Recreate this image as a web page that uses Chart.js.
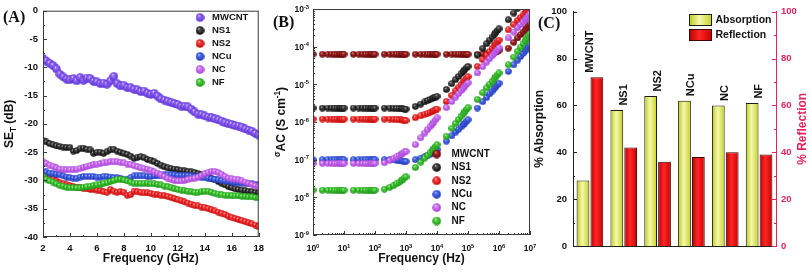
<!DOCTYPE html>
<html lang="en">
<head>
<meta charset="UTF-8">
<title>SE, AC conductivity and absorption / reflection</title>
<script src="https://cdn.jsdelivr.net/npm/chart.js"></script>
<style>
  body { margin: 0; background: #fff; }
  #wrap { position: relative; width: 810px; height: 278px; overflow: hidden; }
  canvas { position: absolute; top: 0; }
  #chartA { left: 0; }
  #chartB { left: 270px; }
  #chartC { left: 525px; }
</style>
</head>
<body>
<div id="wrap">
  <canvas id="chartA" width="270" height="278"></canvas>
  <canvas id="chartB" width="270" height="278"></canvas>
  <canvas id="chartC" width="285" height="278"></canvas>
</div>
<script>
const FONT = "'Liberation Sans', Arial, sans-serif";
const SERIF = "'Liberation Serif', 'Times New Roman', serif";
const INK = '#111';
const AXIS = '#3a3a3a';
const RED = '#e3245a';
Chart.defaults.font.family = FONT;
Chart.defaults.color = INK;

const samples = ['MWCNT', 'NS1', 'NS2', 'NCu', 'NC', 'NF'];

// ---- (A) total shielding effectiveness vs frequency ----
const freqGHz = [2, 2.25, 2.5, 2.75, 3, 3.25, 3.5, 3.75,
  4, 4.25, 4.5, 4.75, 5, 5.25, 5.5, 5.75,
  6, 6.25, 6.5, 6.75, 7, 7.25, 7.5, 7.75,
  8, 8.25, 8.5, 8.75, 9, 9.25, 9.5, 9.75,
  10, 10.25, 10.5, 10.75, 11, 11.25, 11.5, 11.75,
  12, 12.25, 12.5, 12.75, 13, 13.25, 13.5, 13.75,
  14, 14.25, 14.5, 14.75, 15, 15.25, 15.5, 15.75,
  16, 16.25, 16.5, 16.75, 17, 17.25, 17.5, 17.75,
  18];
const seMWCNT = [-8.4, -8.9, -9.3, -9.7, -10.3, -11.2, -11.7, -12.1,
  -12.2, -12.0, -12.4, -11.8, -12.3, -11.9, -12.0, -12.5,
  -12.6, -12.9, -12.8, -13.0, -12.4, -11.6, -12.9, -13.3,
  -13.2, -13.6, -13.6, -13.9, -14.0, -14.3, -14.2, -14.6,
  -14.8, -14.6, -15.1, -15.6, -15.8, -16.0, -16.2, -16.4,
  -16.6, -16.9, -16.9, -17.0, -17.4, -17.9, -18.3, -18.4,
  -18.6, -18.8, -18.9, -19.1, -19.3, -19.5, -19.8, -20.0,
  -20.1, -20.3, -20.4, -20.6, -20.9, -21.1, -21.3, -21.7,
  -22.0];
const seNS1 = [-22.9, -23.2, -23.5, -23.7, -23.9, -24.0, -24.1, -24.2,
  -24.2, -24.8, -24.7, -24.4, -24.3, -24.5, -24.6, -25.2,
  -25.0, -25.0, -25.2, -24.9, -24.6, -24.5, -24.8, -25.0,
  -25.2, -25.4, -25.7, -26.1, -25.9, -25.8, -26.0, -26.3,
  -26.4, -26.7, -27.0, -27.3, -27.6, -27.8, -27.9, -28.0,
  -28.1, -28.2, -28.3, -28.4, -28.5, -28.6, -28.8, -29.0,
  -29.2, -29.4, -29.7, -29.9, -30.2, -30.5, -30.8, -31.1,
  -31.3, -31.5, -31.6, -31.7, -31.8, -31.9, -32.0, -32.1,
  -32.2];
const seNS2 = [-29.0, -29.3, -29.5, -29.8, -30.1, -30.4, -30.6, -30.8,
  -30.9, -31.1, -31.2, -31.3, -31.4, -31.5, -31.6, -31.6,
  -31.7, -31.8, -32.0, -32.1, -31.6, -31.9, -32.1, -32.0,
  -32.1, -32.6, -32.5, -31.9, -32.0, -32.1, -32.2, -32.2,
  -32.3, -32.4, -32.5, -32.6, -32.7, -32.8, -33.0, -33.2,
  -33.4, -33.6, -33.8, -34.0, -34.2, -34.4, -34.5, -34.7,
  -34.8, -35.0, -35.2, -35.4, -35.6, -35.8, -36.0, -36.3,
  -36.5, -36.7, -36.9, -37.1, -37.3, -37.5, -37.7, -37.9,
  -38.2];
const seNCu = [-28.4, -28.5, -28.7, -28.8, -28.9, -29.0, -29.2, -29.4,
  -29.5, -29.6, -29.6, -29.4, -29.3, -29.3, -29.3, -29.3,
  -29.4, -29.4, -29.3, -29.3, -29.4, -29.5, -29.5, -29.6,
  -29.8, -29.8, -29.5, -29.2, -29.2, -29.2, -29.2, -29.3,
  -29.3, -29.2, -29.2, -29.1, -29.0, -29.0, -29.0, -29.0,
  -29.1, -29.1, -29.1, -29.1, -29.2, -29.3, -29.3, -29.4,
  -29.5, -29.6, -29.7, -29.8, -29.9, -30.0, -30.1, -30.2,
  -30.3, -30.4, -30.4, -30.5, -30.5, -30.6, -30.6, -30.7,
  -30.8];
const seNC = [-26.7, -27.0, -27.3, -27.5, -27.8, -28.0, -28.0, -28.1,
  -28.1, -28.1, -28.0, -27.9, -27.7, -27.5, -27.4, -27.2,
  -27.1, -27.0, -26.9, -26.8, -26.7, -26.7, -26.7, -26.8,
  -26.9, -27.1, -27.2, -27.4, -27.6, -27.8, -27.9, -28.0,
  -28.2, -28.5, -28.7, -29.0, -29.3, -29.6, -29.8, -30.0,
  -30.1, -30.1, -30.0, -29.8, -29.7, -29.6, -29.4, -29.1,
  -28.8, -28.6, -28.4, -28.4, -28.6, -28.9, -29.3, -29.6,
  -29.7, -29.8, -29.9, -30.1, -30.3, -30.5, -30.7, -30.9,
  -31.1];
const seNF = [-29.3, -29.8, -30.1, -30.3, -30.6, -30.9, -31.0, -31.2,
  -31.3, -31.3, -31.3, -31.3, -31.2, -31.1, -31.0, -30.9,
  -30.8, -30.7, -30.5, -30.4, -30.2, -30.0, -29.8, -29.8,
  -29.9, -30.1, -30.3, -30.5, -30.5, -30.5, -30.5, -30.5,
  -30.6, -30.6, -30.7, -30.8, -31.0, -31.1, -31.3, -31.5,
  -31.6, -31.7, -31.8, -31.9, -32.0, -32.1, -32.1, -32.0,
  -31.9, -31.9, -32.1, -32.3, -32.4, -32.5, -32.6, -32.6,
  -32.7, -32.7, -32.7, -32.8, -32.8, -32.9, -32.9, -33.0,
  -33.1];

// ---- (B) AC conductivity vs frequency (S/cm) ----
const freqHz = [1, 2, 3, 4, 5, 6, 7, 8, 9,
  10, 20, 30, 40, 50, 60, 70, 80, 90,
  100, 200, 300, 400, 500, 600, 700, 800, 900,
  1e3, 2e3, 3e3, 4e3, 5e3, 6e3, 7e3, 8e3, 9e3,
  1e4, 2e4, 3e4, 4e4, 5e4, 6e4, 7e4, 8e4, 9e4,
  1e5, 2e5, 3e5, 4e5, 5e5, 6e5, 7e5, 8e5, 9e5,
  1e6, 2e6, 3e6, 4e6, 5e6, 6e6, 7e6, 8e6, 9e6,
  1e7];
// after the first 19 points each run is 2x10^n ... 10^(n+1)
const acMWCNT = [6.3e-5, 6.3e-5, 6.3e-5, 6.3e-5, 6.3e-5, 6.3e-5, 6.3e-5, 6.3e-5, 6.3e-5, 6.3e-5,
  6.3e-5, 6.3e-5, 6.3e-5, 6.3e-5, 6.3e-5, 6.3e-5, 6.3e-5, 6.3e-5, 6.3e-5,
  6.3e-5, 6.3e-5, 6.3e-5, 6.3e-5, 6.3e-5, 6.3e-5, 6.3e-5, 6.3e-5, 6.3e-5,
  6.3e-5, 6.3e-5, 6.3e-5, 6.3e-5, 6.3e-5, 6.3e-5, 6.3e-5, 6.3e-5, 6.3e-5,
  6.3e-5, 6.3e-5, 6.3e-5, 6.3e-5, 6.3e-5, 6.3e-5, 6.3e-5, 6.3e-5, 6.3e-5,
  6.3e-5, 6.4e-5, 6.5e-5, 6.6e-5, 6.8e-5, 7.0e-5, 7.3e-5, 7.6e-5, 8.0e-5,
  9.1e-5, 1.3e-4, 1.7e-4, 2.1e-4, 2.45e-4, 2.8e-4, 3.2e-4, 3.6e-4, 4.0e-4];
const acNS1 = [2.35e-6, 2.35e-6, 2.35e-6, 2.35e-6, 2.35e-6, 2.35e-6, 2.35e-6, 2.35e-6, 2.35e-6, 2.35e-6,
  2.35e-6, 2.35e-6, 2.35e-6, 2.35e-6, 2.35e-6, 2.35e-6, 2.35e-6, 2.35e-6, 2.35e-6,
  2.35e-6, 2.35e-6, 2.3e-6, 2.3e-6, 2.3e-6, 2.25e-6, 2.25e-6, 2.2e-6, 2.2e-6,
  2.6e-6, 3.0e-6, 3.4e-6, 3.7e-6, 4.0e-6, 4.2e-6, 4.5e-6, 4.6e-6, 4.8e-6,
  7.3e-6, 1.04e-5, 1.34e-5, 1.63e-5, 1.92e-5, 2.2e-5, 2.48e-5, 2.75e-5, 3.0e-5,
  6.0e-5, 9.0e-5, 1.2e-4, 1.5e-4, 1.8e-4, 2.1e-4, 2.4e-4, 2.7e-4, 3.0e-4,
  5.2e-4, 7.8e-4, 1.05e-3, 1.3e-3, 1.55e-3, 1.8e-3, 2.1e-3, 2.3e-3, 2.6e-3];
const acNS2 = [1.2e-6, 1.2e-6, 1.2e-6, 1.2e-6, 1.2e-6, 1.2e-6, 1.2e-6, 1.2e-6, 1.2e-6, 1.2e-6,
  1.2e-6, 1.2e-6, 1.2e-6, 1.2e-6, 1.2e-6, 1.2e-6, 1.2e-6, 1.2e-6, 1.2e-6,
  1.2e-6, 1.2e-6, 1.18e-6, 1.17e-6, 1.15e-6, 1.15e-6, 1.13e-6, 1.12e-6, 1.1e-6,
  1.3e-6, 1.45e-6, 1.6e-6, 1.7e-6, 1.8e-6, 1.9e-6, 2.0e-6, 2.1e-6, 2.2e-6,
  3.5e-6, 5.1e-6, 6.8e-6, 8.4e-6, 9.9e-6, 1.15e-5, 1.3e-5, 1.46e-5, 1.6e-5,
  3.0e-5, 4.5e-5, 6.0e-5, 7.5e-5, 9.0e-5, 1.05e-4, 1.2e-4, 1.35e-4, 1.5e-4,
  2.8e-4, 3.9e-4, 5.0e-4, 6.0e-4, 7.0e-4, 8.0e-4, 9.0e-4, 1.0e-3, 1.1e-3];
const acNCu = [1.0e-7, 1.0e-7, 1.0e-7, 1.0e-7, 1.0e-7, 1.0e-7, 1.0e-7, 1.0e-7, 1.0e-7, 1.0e-7,
  1.0e-7, 1.0e-7, 1.0e-7, 1.0e-7, 1.0e-7, 1.0e-7, 1.0e-7, 1.0e-7, 1.0e-7,
  1.0e-7, 1.0e-7, 9.8e-8, 9.7e-8, 9.5e-8, 9.3e-8, 9.2e-8, 9.0e-8, 9.0e-8,
  1.0e-7, 1.1e-7, 1.2e-7, 1.3e-7, 1.4e-7, 1.5e-7, 1.6e-7, 1.75e-7, 1.85e-7,
  3.1e-7, 4.3e-7, 5.4e-7, 6.4e-7, 7.4e-7, 8.4e-7, 9.4e-7, 1.05e-6, 1.15e-6,
  2.35e-6, 3.45e-6, 4.5e-6, 5.6e-6, 6.6e-6, 7.7e-6, 8.7e-6, 9.7e-6, 1.07e-5,
  2.2e-5, 3.3e-5, 4.4e-5, 5.5e-5, 6.6e-5, 7.7e-5, 8.8e-5, 9.9e-5, 1.1e-4];
const acNC = [8.0e-8, 8.0e-8, 8.0e-8, 8.0e-8, 8.0e-8, 8.0e-8, 8.0e-8, 8.0e-8, 8.0e-8, 8.0e-8,
  8.0e-8, 8.0e-8, 8.0e-8, 8.0e-8, 8.0e-8, 8.0e-8, 8.0e-8, 8.0e-8, 8.0e-8,
  8.3e-8, 9.6e-8, 1.08e-7, 1.19e-7, 1.3e-7, 1.4e-7, 1.5e-7, 1.6e-7, 1.66e-7,
  2.5e-7, 3.8e-7, 5.1e-7, 6.3e-7, 7.6e-7, 8.8e-7, 1.0e-6, 1.15e-6, 1.3e-6,
  2.4e-6, 3.5e-6, 4.6e-6, 5.7e-6, 6.8e-6, 7.9e-6, 9.0e-6, 1.0e-5, 1.1e-5,
  2.0e-5, 2.95e-5, 3.9e-5, 4.8e-5, 5.7e-5, 6.6e-5, 7.5e-5, 8.4e-5, 9.3e-5,
  1.7e-4, 2.45e-4, 3.2e-4, 3.9e-4, 4.6e-4, 5.3e-4, 6.0e-4, 6.8e-4, 7.5e-4];
const acNF = [1.55e-8, 1.55e-8, 1.55e-8, 1.55e-8, 1.55e-8, 1.55e-8, 1.55e-8, 1.55e-8, 1.55e-8, 1.55e-8,
  1.55e-8, 1.55e-8, 1.55e-8, 1.55e-8, 1.55e-8, 1.55e-8, 1.55e-8, 1.55e-8, 1.55e-8,
  1.65e-8, 1.85e-8, 2.05e-8, 2.3e-8, 2.5e-8, 2.75e-8, 3.0e-8, 3.3e-8, 3.5e-8,
  6.2e-8, 8.6e-8, 1.1e-7, 1.32e-7, 1.54e-7, 1.76e-7, 2.0e-7, 2.25e-7, 2.5e-7,
  4.2e-7, 6.8e-7, 9.2e-7, 1.17e-6, 1.42e-6, 1.66e-6, 1.9e-6, 2.15e-6, 2.4e-6,
  4.0e-6, 6.0e-6, 8.0e-6, 1.0e-5, 1.2e-5, 1.4e-5, 1.6e-5, 1.8e-5, 2.0e-5,
  3.3e-5, 5.3e-5, 7.5e-5, 9.7e-5, 1.21e-4, 1.45e-4, 1.69e-4, 1.95e-4, 2.2e-4];

// ---- (C) absorption / reflection share (%) ----
const absorption = [28, 58, 64, 62, 60, 61];
const reflection = [72, 42, 36, 38, 40, 39];

const seriesA = [seMWCNT, seNS1, seNS2, seNCu, seNC, seNF];
const seriesB = [acMWCNT, acNS1, acNS2, acNCu, acNC, acNF];

// ball colours [light, dark]
const ballA = [['#9c72fa', '#5b2fd0'], ['#555', '#050505'], ['#ff4a4a', '#c20000'],
  ['#5876f2', '#1b33b8'], ['#d987f7', '#a33bd6'], ['#58dc48', '#159010']];
const ballB = [['#b33030', '#600000'], ...ballA.slice(1)];

function sphere(cols, d) {
  const c = document.createElement('canvas');
  c.width = c.height = d;
  const g = c.getContext('2d');
  const r = d / 2;
  const grad = g.createRadialGradient(r * 0.75, r * 0.6, 0, r, r, r);
  grad.addColorStop(0, '#ffffff');
  grad.addColorStop(0.22, cols[0]);
  grad.addColorStop(1, cols[1]);
  g.fillStyle = grad;
  g.beginPath();
  g.arc(r, r, r - 0.2, 0, Math.PI * 2);
  g.fill();
  return c;
}

function richText(ctx, parts, x, y, rot, size, color, align, weight, family) {
  weight = weight || 'bold';
  family = family || FONT;
  ctx.save();
  ctx.translate(x, y);
  ctx.rotate(rot || 0);
  ctx.fillStyle = color || INK;
  ctx.textBaseline = 'middle';
  ctx.textAlign = 'left';
  const sizes = parts.map(p => (p.sub || p.sup) ? size * 0.68 : size);
  const widths = parts.map((p, i) => { ctx.font = `${weight} ${sizes[i]}px ${family}`; return ctx.measureText(p.t).width; });
  const w = widths.reduce((s, v) => s + v, 0);
  let cx = align === 'left' ? 0 : align === 'right' ? -w : -w / 2;
  parts.forEach((p, i) => {
    ctx.font = `${weight} ${sizes[i]}px ${family}`;
    const dy = p.sub ? size * 0.3 : p.sup ? -size * 0.36 : 0;
    ctx.fillText(p.t, cx, dy);
    cx += widths[i];
  });
  ctx.restore();
}

function tickMarks(ctx, chart, scaleId, values, len, color) {
  const s = chart.scales[scaleId], a = chart.chartArea;
  ctx.strokeStyle = color || AXIS;
  ctx.lineWidth = 1;
  ctx.beginPath();
  values.forEach(v => {
    const p = Math.round(s.getPixelForValue(v)) + 0.5;
    if (s.isHorizontal()) { ctx.moveTo(p, a.bottom); ctx.lineTo(p, a.bottom - len); }
    else if (s.position === 'right') { ctx.moveTo(a.right, p); ctx.lineTo(a.right - len, p); }
    else { ctx.moveTo(a.left, p); ctx.lineTo(a.left + len, p); }
  });
  ctx.stroke();
}

function frame(ctx, a) {
  ctx.strokeStyle = AXIS;
  ctx.lineWidth = 1;
  ctx.strokeRect(a.left + 0.5, a.top + 0.5, a.right - a.left - 1, a.bottom - a.top - 1);
}

function range(from, to, step) {
  const out = [];
  for (let v = from; v <= to + 1e-9; v += step) out.push(v);
  return out;
}

const tickFont = { size: 9.5, weight: 'bold' };
const noGrid = { display: false, drawTicks: false };

// ---------------- chart A ----------------
const ballsA = ballA.map((c, i) => sphere(c, i === 0 ? 9 : 7));
const legendBallsA = ballA.map(c => sphere(c, 9));

new Chart(document.getElementById('chartA'), {
  type: 'scatter',
  data: {
    datasets: samples.map((name, i) => ({
      label: name,
      data: freqGHz.map((f, j) => ({ x: f, y: seriesA[i][j] })),
      pointStyle: ballsA[i],
      pointRadius: 4,
      order: 6 - i
    }))
  },
  options: {
    responsive: false, animation: false, events: [],
    layout: { padding: { top: 6, right: 7, left: 0, bottom: 0 } },
    plugins: { legend: { display: false }, tooltip: { enabled: false } },
    scales: {
      x: { type: 'linear', min: 2, max: 18, grid: noGrid, border: { display: false },
        ticks: { stepSize: 2, padding: 6, font: tickFont, color: INK },
        afterFit: s => { s.height = 41; } },
      y: { min: -40, max: 0, grid: noGrid, border: { display: false },
        ticks: { stepSize: 5, padding: 5, font: tickFont, color: INK },
        afterFit: s => { s.width = 43; } }
    }
  },
  plugins: [{
    id: 'decoA',
    afterDraw(chart) {
      const ctx = chart.ctx, a = chart.chartArea;
      ctx.save();
      frame(ctx, a);
      tickMarks(ctx, chart, 'x', range(2, 18, 2), 4);
      tickMarks(ctx, chart, 'x', range(3, 17, 2), 2);
      tickMarks(ctx, chart, 'y', range(-40, 0, 5), 4);
      tickMarks(ctx, chart, 'y', range(-37.5, -2.5, 5), 2);
      richText(ctx, [{ t: 'Frequency (GHz)' }], (a.left + a.right) / 2, 259, 0, 12);
      richText(ctx, [{ t: 'SE' }, { t: 'T', sub: true }, { t: ' (dB)' }], 10, (a.top + a.bottom) / 2, -Math.PI / 2, 12);
      richText(ctx, [{ t: '(A)' }], 3, 17.5, 0, 16, INK, 'left', 'bold', SERIF);
      samples.forEach((name, i) => {
        const img = legendBallsA[i], y = 17.5 + 13 * i;
        ctx.drawImage(img, 200 - img.width / 2, y - img.height / 2);
        richText(ctx, [{ t: name }], 212, y, 0, 9.5, INK, 'left');
      });
      ctx.restore();
    }
  }]
});

// ---------------- chart B ----------------
const ballsB = ballB.map(c => sphere(c, 7));
const legendBallsB = ballB.map(c => sphere(c, 9));
const decadesY = [-9, -8, -7, -6, -5, -4, -3];
const decadesX = [0, 1, 2, 3, 4, 5, 6, 7];

new Chart(document.getElementById('chartB'), {
  type: 'scatter',
  data: {
    datasets: samples.map((name, i) => ({
      label: name,
      data: freqHz.map((f, j) => ({ x: f, y: seriesB[i][j] })),
      pointStyle: ballsB[i],
      pointRadius: 4,
      order: 6 - i
    }))
  },
  options: {
    responsive: false, animation: false, events: [],
    layout: { padding: { top: 9, right: 10, left: 0, bottom: 0 } },
    plugins: { legend: { display: false }, tooltip: { enabled: false } },
    scales: {
      x: { type: 'logarithmic', min: 1, max: 1e7, grid: noGrid, border: { display: false },
        ticks: { display: false }, afterFit: s => { s.height = 43; } },
      y: { type: 'logarithmic', min: 1e-9, max: 1e-3, grid: noGrid, border: { display: false },
        ticks: { display: false }, afterFit: s => { s.width = 43; } }
    }
  },
  plugins: [{
    id: 'decoB',
    afterDraw(chart) {
      const ctx = chart.ctx, a = chart.chartArea;
      const sx = chart.scales.x, sy = chart.scales.y;
      ctx.save();
      frame(ctx, a);
      const minorX = [], minorY = [];
      decadesX.slice(0, -1).forEach(k => { for (let m = 2; m <= 9; m++) minorX.push(m * Math.pow(10, k)); });
      decadesY.slice(0, -1).forEach(k => { for (let m = 2; m <= 9; m++) minorY.push(m * Math.pow(10, k)); });
      tickMarks(ctx, chart, 'x', decadesX.map(k => Math.pow(10, k)), 4);
      tickMarks(ctx, chart, 'x', minorX, 2);
      tickMarks(ctx, chart, 'y', decadesY.map(k => Math.pow(10, k)), 4);
      tickMarks(ctx, chart, 'y', minorY, 2);
      decadesX.forEach(k => richText(ctx, [{ t: '10' }, { t: String(k), sup: true }],
        sx.getPixelForValue(Math.pow(10, k)), 249, 0, 8.5));
      decadesY.forEach(k => richText(ctx, [{ t: '10' }, { t: String(k), sup: true }],
        a.left - 4, sy.getPixelForValue(Math.pow(10, k)) + 1, 0, 8.5, INK, 'right'));
      richText(ctx, [{ t: 'Frequency (Hz)' }], (a.left + a.right) / 2, 259, 0, 12);
      richText(ctx, [{ t: 'σ', sup: true }, { t: 'AC (S cm' }, { t: '-1', sup: true }, { t: ')' }],
        12, (a.top + a.bottom) / 2, -Math.PI / 2, 12);
      richText(ctx, [{ t: '(B)' }], 3, 22.5, 0, 16, INK, 'left', 'bold', SERIF);
      samples.forEach((name, i) => {
        const img = legendBallsB[i], y = 154 + 13.4 * i;
        ctx.drawImage(img, 166.7 - img.width / 2, y - img.height / 2);
        richText(ctx, [{ t: name }], 181.5, y, 0, 10, INK, 'left');
      });
      ctx.restore();
    }
  }]
});

// ---------------- chart C ----------------
const yellowStops = [[0, '#bcc813'], [0.45, '#f4f8ae'], [1, '#c6d01e']];
const redStops = [[0, '#b80000'], [0.45, '#ff2626'], [1, '#c80000']];

function hGrad(ctx2d, x0, x1, stops) {
  const g = ctx2d.createLinearGradient(x0, 0, x1, 0);
  stops.forEach(s => g.addColorStop(s[0], s[1]));
  return g;
}
function barFill(stops, flat) {
  return c => {
    const el = c.element;
    if (!el || el.x == null || !el.width) return flat;
    return hGrad(c.chart.ctx, el.x - el.width / 2, el.x + el.width / 2, stops);
  };
}

const chartC = new Chart(document.getElementById('chartC'), {
  type: 'bar',
  data: {
    labels: samples,
    datasets: [
      { label: 'Absorption', data: absorption, yAxisID: 'y',
        backgroundColor: barFill(yellowStops, '#e8ef78'), borderColor: '#1a1a1a', borderWidth: 1,
        categoryPercentage: 0.82, barPercentage: 0.92 },
      { label: 'Reflection', data: reflection, yAxisID: 'y1',
        backgroundColor: barFill(redStops, '#ee1111'), borderColor: '#3a0000', borderWidth: 1,
        categoryPercentage: 0.82, barPercentage: 0.92 }
    ]
  },
  options: {
    responsive: false, animation: false, events: [],
    layout: { padding: { top: 9, right: 0, left: 0, bottom: 0 } },
    plugins: { legend: { display: false }, tooltip: { enabled: false } },
    scales: {
      x: { grid: noGrid, ticks: { display: false }, border: { color: '#222' },
        afterFit: s => { s.height = 32; } },
      y: { position: 'left', min: 0, max: 100, grid: noGrid, border: { color: '#222' },
        ticks: { stepSize: 20, padding: 6, font: tickFont, color: INK },
        afterFit: s => { s.width = 48; } },
      y1: { position: 'right', min: 0, max: 100, grid: noGrid, border: { color: RED },
        ticks: { stepSize: 20, padding: 5, font: tickFont, color: RED },
        afterFit: s => { s.width = 34; } }
    }
  },
  plugins: [{
    id: 'decoC',
    afterDraw(chart) {
      const ctx = chart.ctx, a = chart.chartArea;
      const sx = chart.scales.x, sy = chart.scales.y;
      ctx.save();
      tickMarks(ctx, chart, 'y', range(0, 100, 20), 4, '#222');
      tickMarks(ctx, chart, 'y', range(10, 90, 20), 2, '#222');
      tickMarks(ctx, chart, 'y1', range(0, 100, 20), 4, RED);
      tickMarks(ctx, chart, 'y1', range(10, 90, 20), 2, RED);
      samples.forEach((name, i) => {
        const top = sy.getPixelForValue(Math.max(absorption[i], reflection[i]));
        richText(ctx, [{ t: name }], sx.getPixelForValue(i), top - 4.5, -Math.PI / 2, 11, INK, 'left');
      });
      richText(ctx, [{ t: '% Absorption' }], 15, (a.top + a.bottom) / 2, -Math.PI / 2, 12);
      richText(ctx, [{ t: '% Reflection' }], 278, (a.top + a.bottom) / 2, -Math.PI / 2, 12, RED);
      richText(ctx, [{ t: '(C)' }], 13, 24, 0, 16, INK, 'left', 'bold', SERIF);
      const lg = [['Absorption', yellowStops, 14, '#1a1a1a'], ['Reflection', redStops, 29, '#3a0000']];
      lg.forEach(([txt, stops, y, edge]) => {
        ctx.fillStyle = hGrad(ctx, 164, 187, stops);
        ctx.fillRect(164, y, 23, 12);
        ctx.strokeStyle = edge;
        ctx.lineWidth = 1;
        ctx.strokeRect(164.5, y + 0.5, 22, 11);
        richText(ctx, [{ t: txt }], 190.5, y + 6, 0, 10.5, INK, 'left');
      });
      ctx.restore();
    }
  }]
});
// second pass so the bar gradients can use the laid-out bar geometry
chartC.update('none');
</script>
</body>
</html>
